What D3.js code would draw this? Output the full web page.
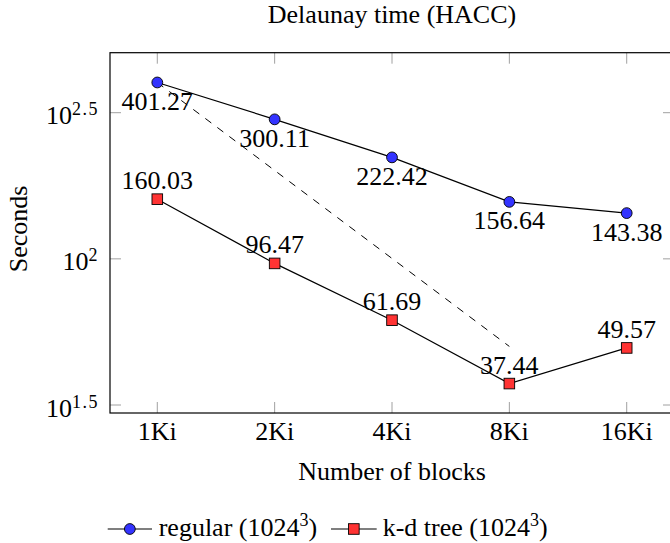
<!DOCTYPE html>
<html>
<head>
<meta charset="utf-8">
<script src="https://cdn.jsdelivr.net/npm/d3@7"></script>
<style>
  html, body { margin: 0; padding: 0; background: #fff; }
  svg { display: block; }
  text { font-family: "Liberation Serif", "Times New Roman", serif; fill: #000; }
</style>
</head>
<body>
<svg id="chart" width="670" height="543"></svg>
<script>
// ---- data ----
const categories = ["1Ki", "2Ki", "4Ki", "8Ki", "16Ki"];
const regularValues = [401.27, 300.11, 222.42, 156.64, 143.38];
const kdtreeValues = [160.03, 96.47, 61.69, 37.44, 49.57];
const idealIndices = [0, 3];
const idealValues = [401.27, 50.16];
const yTickExponents = [1.5, 2, 2.5];
const yTickLabels = ["1.5", "2", "2.5"];
const seriesNames = ["regular (1024", "k-d tree (1024"];

// ---- layout ----
const frame = { left: 110, right: 674, top: 52.7, bottom: 413 };
const svg = d3.select("#chart");

const x = d3.scaleLinear().domain([-0.403, 4.403]).range([frame.left, frame.right]);
const y = d3.scaleLog().domain([Math.pow(10, 1.5), Math.pow(10, 2.5)]).range([405, 112.7]);

const tickLen = 11;
const tickColor = "#a0a0a0";

// ticks (inside)
const g = svg.append("g");
categories.forEach((c, i) => {
  const xx = x(i);
  g.append("line").attr("x1", xx).attr("x2", xx).attr("y1", frame.bottom).attr("y2", frame.bottom - tickLen)
    .attr("stroke", tickColor).attr("stroke-width", 1);
  g.append("line").attr("x1", xx).attr("x2", xx).attr("y1", frame.top).attr("y2", frame.top + tickLen)
    .attr("stroke", tickColor).attr("stroke-width", 1);
  g.append("text").attr("x", xx).attr("y", 440).attr("text-anchor", "middle")
    .attr("font-size", 26).text(c);
});
yTickExponents.forEach((e, i) => {
  const yy = y(Math.pow(10, e));
  g.append("line").attr("x1", frame.left).attr("x2", frame.left + tickLen).attr("y1", yy).attr("y2", yy)
    .attr("stroke", tickColor).attr("stroke-width", 1);
  g.append("line").attr("x1", frame.right).attr("x2", frame.right - tickLen).attr("y1", yy).attr("y2", yy)
    .attr("stroke", tickColor).attr("stroke-width", 1);
  const t = g.append("text").attr("x", 99).attr("y", yy + 11.5).attr("text-anchor", "end").attr("font-size", 26);
  t.append("tspan").text("10");
  t.append("tspan").attr("dy", -9).attr("font-size", 18).attr("letter-spacing", 1.5).text(yTickLabels[i]);
});

// frame
svg.append("rect").attr("x", frame.left).attr("y", frame.top)
  .attr("width", frame.right - frame.left).attr("height", frame.bottom - frame.top)
  .attr("fill", "none").attr("stroke", "#000").attr("stroke-width", 1.2);

// ideal dashed line
const line = d3.line().x(d => x(d[0])).y(d => y(d[1]));
svg.append("path")
  .attr("d", line(idealIndices.map((i, k) => [i, idealValues[k]])))
  .attr("fill", "none").attr("stroke", "#000").attr("stroke-width", 1).attr("stroke-dasharray", "7.5,7.5");

// series lines
svg.append("path").attr("d", line(regularValues.map((v, i) => [i, v])))
  .attr("fill", "none").attr("stroke", "#000").attr("stroke-width", 1.2);
svg.append("path").attr("d", line(kdtreeValues.map((v, i) => [i, v])))
  .attr("fill", "none").attr("stroke", "#000").attr("stroke-width", 1.2);

// labels
regularValues.forEach((v, i) => {
  svg.append("text").attr("x", x(i)).attr("y", y(v) + 27.5).attr("text-anchor", "middle")
    .attr("font-size", 26).text(v.toFixed(2));
});
kdtreeValues.forEach((v, i) => {
  svg.append("text").attr("x", x(i)).attr("y", y(v) - 10).attr("text-anchor", "middle")
    .attr("font-size", 26).text(v.toFixed(2));
});

// markers
const blue = "#3333ff", red = "#ff3333";
regularValues.forEach((v, i) => {
  svg.append("circle").attr("cx", x(i)).attr("cy", y(v)).attr("r", 5.4)
    .attr("fill", blue).attr("stroke", "#000").attr("stroke-width", 0.9);
});
kdtreeValues.forEach((v, i) => {
  svg.append("rect").attr("x", x(i) - 5.3).attr("y", y(v) - 5.3).attr("width", 10.6).attr("height", 10.6)
    .attr("fill", red).attr("stroke", "#000").attr("stroke-width", 0.9);
});

// title and axis labels
svg.append("text").attr("x", (frame.left + frame.right) / 2).attr("y", 23).attr("text-anchor", "middle")
  .attr("font-size", 26).text("Delaunay time (HACC)");
svg.append("text").attr("x", (frame.left + frame.right) / 2).attr("y", 480).attr("text-anchor", "middle")
  .attr("font-size", 26).text("Number of blocks");
svg.append("text").attr("transform", "translate(27,229) rotate(-90)").attr("text-anchor", "middle")
  .attr("font-size", 26).text("Seconds");

// legend
const legY = 529;
const legendItems = [
  { x0: 107.7, x1: 152, tx: 158.7, name: seriesNames[0], shape: "circle", color: blue },
  { x0: 331, x1: 376.7, tx: 382.7, name: seriesNames[1], shape: "square", color: red }
];
legendItems.forEach(it => {
  svg.append("line").attr("x1", it.x0).attr("x2", it.x1).attr("y1", legY).attr("y2", legY)
    .attr("stroke", "#000").attr("stroke-width", 1.2);
  const cx = (it.x0 + it.x1) / 2;
  if (it.shape === "circle") {
    svg.append("circle").attr("cx", cx).attr("cy", legY).attr("r", 5.4)
      .attr("fill", it.color).attr("stroke", "#000").attr("stroke-width", 0.9);
  } else {
    svg.append("rect").attr("x", cx - 5.3).attr("y", legY - 5.3).attr("width", 10.6).attr("height", 10.6)
      .attr("fill", it.color).attr("stroke", "#000").attr("stroke-width", 0.9);
  }
  const t = svg.append("text").attr("x", it.tx).attr("y", 536).attr("font-size", 26);
  t.append("tspan").text(it.name);
  t.append("tspan").attr("dy", -10).attr("font-size", 18).text("3");
  t.append("tspan").attr("dy", 10).text(")");
});
</script>
</body>
</html>
